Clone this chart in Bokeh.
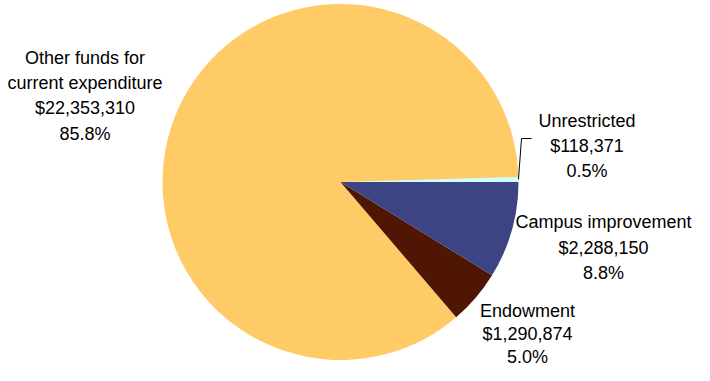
import math
from bokeh.plotting import figure
from bokeh.models import Range1d, ColumnDataSource
from bokeh.core.properties import value
from bokeh.embed import file_html
from bokeh.resources import INLINE

# ---- data ----
categories = ["Unrestricted", "Other funds for\ncurrent expenditure", "Endowment", "Campus improvement"]
amounts = [118371, 22353310, 1290874, 2288150]
percents = ["0.5%", "85.8%", "5.0%", "8.8%"]
colors = ["#CCFFFF", "#FECB66", "#501604", "#3C4483"]

# ---- layout (picture pixel coords, y flipped into data) ----
W, H = 694, 365
cx, cy, r = 340, H - 181.5, 178
label_x = [586.5, 84.5, 527, 603]
label_top_baseline = [120, 57.3, 310, 221.7]
line_gaps = [25.4, 25.3, 23.0, 25.4]

total = sum(amounts)
starts, ends = [], []
acc = 0.0
for a in amounts:
    starts.append(2 * math.pi * acc / total)
    acc += a
    ends.append(2 * math.pi * acc / total)

p = figure(width=W, height=H, output_backend="svg", toolbar_location=None,
           x_range=Range1d(0, W), y_range=Range1d(0, H),
           min_border=0, outline_line_color=None)
p.axis.visible = False
p.grid.visible = False
p.background_fill_color = "white"

src = ColumnDataSource(dict(start=starts, end=ends, color=colors))
p.wedge(x=cx, y=cy, radius=r, start_angle="start", end_angle="end",
        fill_color="color", line_color=None, source=src)

# leader line for Unrestricted
mid = (starts[0] + ends[0]) / 2
sx, sy = cx + r * math.cos(mid), cy + r * math.sin(mid)
p.line(x=[sx, 521, 531], y=[sy, H - 138, H - 138], line_color="black", line_width=1)

# labels
xs, ys, texts = [], [], []
for i, cat in enumerate(categories):
    lines = cat.split("\n") + ["${:,}".format(amounts[i]), percents[i]]
    for j, t in enumerate(lines):
        xs.append(label_x[i])
        ys.append(H - (label_top_baseline[i] + j * line_gaps[i]))
        texts.append(t)
p.text(x=xs, y=ys, text=texts, text_align="center", text_baseline="alphabetic",
       text_font=value("Liberation Sans"), text_font_size="18px", text_color="black")

open("out.html", "w").write(file_html(p, INLINE))
